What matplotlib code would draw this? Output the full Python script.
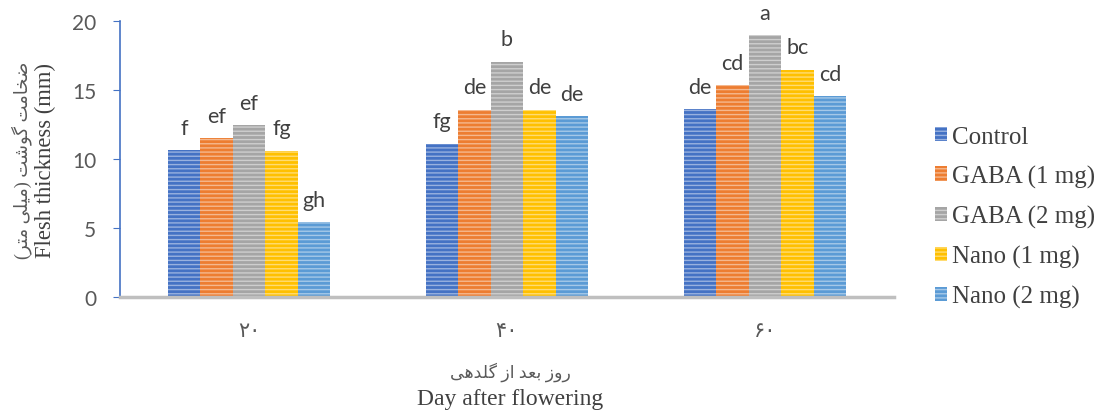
import numpy as np
import matplotlib
matplotlib.use('Agg')
import matplotlib.pyplot as plt
import matplotlib.colors as mcolors

# datos
days = ['\u06f2\u06f0', '\u06f4\u06f0', '\u06f6\u06f0']
series = ['Control', 'GABA (1 mg)', 'GABA (2 mg)', 'Nano (1 mg)', 'Nano (2 mg)']
control = [10.65, 11.1, 13.6]
gaba1 = [11.5, 13.55, 15.35]
gaba2 = [12.45, 17.05, 18.95]
nano1 = [10.6, 13.55, 16.45]
nano2 = [5.4, 13.1, 14.55]
letters_control = ['f', 'fg', 'de']
letters_gaba1 = ['ef', 'de', 'cd']
letters_gaba2 = ['ef', 'b', 'a']
letters_nano1 = ['fg', 'de', 'bc']
letters_nano2 = ['gh', 'de', 'cd']

values = [control, gaba1, gaba2, nano1, nano2]
letters = [letters_control, letters_gaba1, letters_gaba2, letters_nano1, letters_nano2]
colors = ['#4472C4', '#ED7D31', '#A5A5A5', '#FFC000', '#5B9BD5']

# textos persas ya en orden visual (formas de presentacion)
xlabel_fa = ('\uFBFD\uFEEB\uFEAA\uFEE0\uFB94 \uFEAF\uFE8D '
             '\uFEAA\uFECC\uFE91 \uFEAF\uFEED\uFEAD')
ylabel_fa = ('(\uFEAE\uFE98\uFEE3 \uFBFD\uFEE0\uFBFF\uFEE3) '
             '\uFE96\uFEB7\uFEEE\uFB94 \uFE96\uFEE3\uFE8E\uFEA8\uFEBF')

plt.rcParams['hatch.linewidth'] = 1.0
fig = plt.figure(figsize=(10.94, 4.14), dpi=100)
ax = fig.add_axes([0.1097, 0.2802, 0.7073, 0.6667])

x = np.arange(len(days))
w = 0.126
for i, (vals, col, name) in enumerate(zip(values, colors, series)):
    light = mcolors.to_rgba(col)
    light = tuple(0.55 * np.array(light[:3]) + 0.45) + (1.0,)
    pos = x + (i - 2) * w
    bars = ax.bar(pos, vals, w, color=col, edgecolor=light, linewidth=0,
                  hatch='----', label=name)
    for b, lab in zip(bars, letters[i]):
        ax.annotate(lab, (b.get_x() + b.get_width() / 2, b.get_height()),
                    xytext=(0, 9), textcoords='offset points', ha='center',
                    va='bottom', fontsize=15.5, color='#404040', family='Lato')

ax.set_xlim(-0.5, 2.5)
ax.set_ylim(0, 20)
ax.set_yticks([0, 5, 10, 15, 20])
ax.set_xticks(x)
ax.set_xticklabels(days, family=['Liberation Serif', 'DejaVu Sans'], fontsize=15,
                   color='#595959')
ax.tick_params(axis='x', length=0, pad=18)
ax.tick_params(axis='y', direction='out', length=5, color='#4472C4', labelsize=15,
               labelcolor='#595959', pad=12)
for t in ax.get_yticklabels():
    t.set_family('Lato')
for s in ['top', 'right']:
    ax.spines[s].set_visible(False)
ax.spines['left'].set_color('#4472C4')
ax.spines['left'].set_linewidth(1.2)
ax.spines['bottom'].set_color('#BFBFBF')
ax.spines['bottom'].set_linewidth(2.5)

fig.text(0.4662, 0.101, xlabel_fa, ha='center', va='center', fontsize=12.5,
         color='#595959', family=['Liberation Serif', 'DejaVu Sans'])
fig.text(0.4662, 0.034, 'Day after flowering', ha='center', va='center',
         fontsize=17, color='#404040', family='Liberation Serif')
fig.text(0.020, 0.6135, ylabel_fa, ha='center', va='center', rotation=90,
         fontsize=13, color='#595959', family=['Liberation Serif', 'DejaVu Sans'])
fig.text(0.042, 0.6135, 'Flesh thickness (mm)', ha='center', va='center',
         rotation=90, fontsize=16.3, color='#404040', family='Liberation Serif')

leg = ax.legend(loc='center left', bbox_to_anchor=(1.053, 0.29), frameon=False,
                borderaxespad=0, borderpad=0,
                handlelength=0.5, handleheight=0.5, handletextpad=0.2,
                labelspacing=0.68, prop={'family': 'Liberation Serif', 'size': 18})
for t in leg.get_texts():
    t.set_color('#404040')

fig.savefig('out.png', dpi=100)
